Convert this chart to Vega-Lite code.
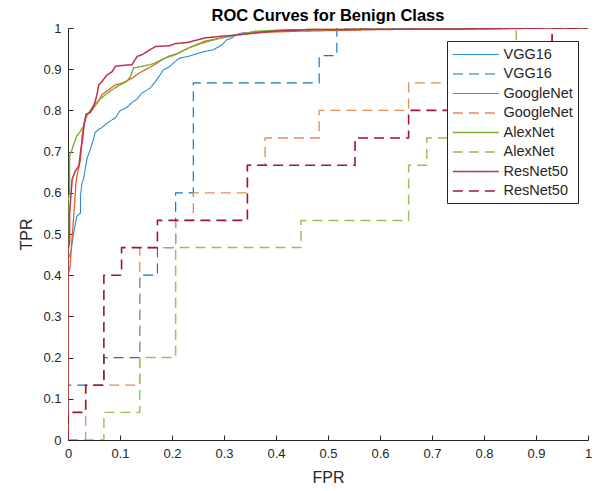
{
  "$schema": "https://vega.github.io/schema/vega-lite/v6.json",
  "autosize": {"type": "none"},
  "width": 520,
  "height": 412,
  "padding": {"left": 68, "top": 28, "right": 12, "bottom": 51},
  "background": "white",
  "config": {"font": "Liberation Sans", "view": {"stroke": null}},
  "title": {"text": "ROC Curves for Benign Class", "fontSize": 16.5, "fontWeight": "bold", "color": "#000000", "anchor": "middle", "offset": 6, "dy": 8, "font": "Liberation Sans"},
  "datasets": {
    "curves": [
      {"s": "VGG16", "i": 0, "x": 0, "y": 0},
      {"s": "VGG16", "i": 1, "x": 0, "y": 0.44},
      {"s": "VGG16", "i": 2, "x": 0.004, "y": 0.45},
      {"s": "VGG16", "i": 3, "x": 0.006, "y": 0.462},
      {"s": "VGG16", "i": 4, "x": 0.011, "y": 0.503},
      {"s": "VGG16", "i": 5, "x": 0.017, "y": 0.543},
      {"s": "VGG16", "i": 6, "x": 0.024, "y": 0.551},
      {"s": "VGG16", "i": 7, "x": 0.024, "y": 0.592},
      {"s": "VGG16", "i": 8, "x": 0.027, "y": 0.625},
      {"s": "VGG16", "i": 9, "x": 0.03, "y": 0.633},
      {"s": "VGG16", "i": 10, "x": 0.033, "y": 0.657},
      {"s": "VGG16", "i": 11, "x": 0.037, "y": 0.685},
      {"s": "VGG16", "i": 12, "x": 0.043, "y": 0.706},
      {"s": "VGG16", "i": 13, "x": 0.049, "y": 0.73},
      {"s": "VGG16", "i": 14, "x": 0.052, "y": 0.746},
      {"s": "VGG16", "i": 15, "x": 0.059, "y": 0.754},
      {"s": "VGG16", "i": 16, "x": 0.065, "y": 0.758},
      {"s": "VGG16", "i": 17, "x": 0.072, "y": 0.766},
      {"s": "VGG16", "i": 18, "x": 0.081, "y": 0.774},
      {"s": "VGG16", "i": 19, "x": 0.091, "y": 0.782},
      {"s": "VGG16", "i": 20, "x": 0.1, "y": 0.799},
      {"s": "VGG16", "i": 21, "x": 0.113, "y": 0.807},
      {"s": "VGG16", "i": 22, "x": 0.123, "y": 0.819},
      {"s": "VGG16", "i": 23, "x": 0.133, "y": 0.828},
      {"s": "VGG16", "i": 24, "x": 0.142, "y": 0.842},
      {"s": "VGG16", "i": 25, "x": 0.158, "y": 0.854},
      {"s": "VGG16", "i": 26, "x": 0.168, "y": 0.87},
      {"s": "VGG16", "i": 27, "x": 0.177, "y": 0.886},
      {"s": "VGG16", "i": 28, "x": 0.183, "y": 0.898},
      {"s": "VGG16", "i": 29, "x": 0.196, "y": 0.907},
      {"s": "VGG16", "i": 30, "x": 0.206, "y": 0.919},
      {"s": "VGG16", "i": 31, "x": 0.215, "y": 0.927},
      {"s": "VGG16", "i": 32, "x": 0.231, "y": 0.931},
      {"s": "VGG16", "i": 33, "x": 0.251, "y": 0.939},
      {"s": "VGG16", "i": 34, "x": 0.263, "y": 0.943},
      {"s": "VGG16", "i": 35, "x": 0.279, "y": 0.947},
      {"s": "VGG16", "i": 36, "x": 0.296, "y": 0.959},
      {"s": "VGG16", "i": 37, "x": 0.305, "y": 0.971},
      {"s": "VGG16", "i": 38, "x": 0.315, "y": 0.976},
      {"s": "VGG16", "i": 39, "x": 0.324, "y": 0.984},
      {"s": "VGG16", "i": 40, "x": 0.334, "y": 0.988},
      {"s": "VGG16", "i": 41, "x": 0.36, "y": 0.99},
      {"s": "VGG16", "i": 42, "x": 0.392, "y": 0.994},
      {"s": "VGG16", "i": 43, "x": 0.5, "y": 0.996},
      {"s": "VGG16", "i": 44, "x": 0.7, "y": 0.998},
      {"s": "VGG16", "i": 45, "x": 0.85, "y": 1},
      {"s": "VGG16", "i": 46, "x": 1, "y": 1},

      {"s": "VGG16\u200b", "i": 0, "x": 0, "y": 0},
      {"s": "VGG16\u200b", "i": 1, "x": 0, "y": 0.133},
      {"s": "VGG16\u200b", "i": 2, "x": 0.069, "y": 0.133},
      {"s": "VGG16\u200b", "i": 3, "x": 0.069, "y": 0.2},
      {"s": "VGG16\u200b", "i": 4, "x": 0.138, "y": 0.2},
      {"s": "VGG16\u200b", "i": 5, "x": 0.138, "y": 0.4},
      {"s": "VGG16\u200b", "i": 6, "x": 0.172, "y": 0.4},
      {"s": "VGG16\u200b", "i": 7, "x": 0.172, "y": 0.467},
      {"s": "VGG16\u200b", "i": 8, "x": 0.207, "y": 0.467},
      {"s": "VGG16\u200b", "i": 9, "x": 0.207, "y": 0.6},
      {"s": "VGG16\u200b", "i": 10, "x": 0.241, "y": 0.6},
      {"s": "VGG16\u200b", "i": 11, "x": 0.241, "y": 0.867},
      {"s": "VGG16\u200b", "i": 12, "x": 0.483, "y": 0.867},
      {"s": "VGG16\u200b", "i": 13, "x": 0.483, "y": 0.933},
      {"s": "VGG16\u200b", "i": 14, "x": 0.517, "y": 0.933},
      {"s": "VGG16\u200b", "i": 15, "x": 0.517, "y": 1},
      {"s": "VGG16\u200b", "i": 16, "x": 1, "y": 1},

      {"s": "GoogleNet", "i": 0, "x": 0, "y": 0},
      {"s": "GoogleNet", "i": 1, "x": 0, "y": 0.4},
      {"s": "GoogleNet", "i": 2, "x": 0.004, "y": 0.42},
      {"s": "GoogleNet", "i": 3, "x": 0.008, "y": 0.495},
      {"s": "GoogleNet", "i": 4, "x": 0.011, "y": 0.543},
      {"s": "GoogleNet", "i": 5, "x": 0.013, "y": 0.577},
      {"s": "GoogleNet", "i": 6, "x": 0.015, "y": 0.62},
      {"s": "GoogleNet", "i": 7, "x": 0.017, "y": 0.64},
      {"s": "GoogleNet", "i": 8, "x": 0.024, "y": 0.681},
      {"s": "GoogleNet", "i": 9, "x": 0.027, "y": 0.738},
      {"s": "GoogleNet", "i": 10, "x": 0.03, "y": 0.762},
      {"s": "GoogleNet", "i": 11, "x": 0.037, "y": 0.791},
      {"s": "GoogleNet", "i": 12, "x": 0.046, "y": 0.8},
      {"s": "GoogleNet", "i": 13, "x": 0.052, "y": 0.811},
      {"s": "GoogleNet", "i": 14, "x": 0.059, "y": 0.823},
      {"s": "GoogleNet", "i": 15, "x": 0.065, "y": 0.838},
      {"s": "GoogleNet", "i": 16, "x": 0.078, "y": 0.85},
      {"s": "GoogleNet", "i": 17, "x": 0.091, "y": 0.862},
      {"s": "GoogleNet", "i": 18, "x": 0.104, "y": 0.866},
      {"s": "GoogleNet", "i": 19, "x": 0.123, "y": 0.878},
      {"s": "GoogleNet", "i": 20, "x": 0.136, "y": 0.89},
      {"s": "GoogleNet", "i": 21, "x": 0.155, "y": 0.903},
      {"s": "GoogleNet", "i": 22, "x": 0.168, "y": 0.912},
      {"s": "GoogleNet", "i": 23, "x": 0.181, "y": 0.923},
      {"s": "GoogleNet", "i": 24, "x": 0.193, "y": 0.931},
      {"s": "GoogleNet", "i": 25, "x": 0.212, "y": 0.939},
      {"s": "GoogleNet", "i": 26, "x": 0.238, "y": 0.955},
      {"s": "GoogleNet", "i": 27, "x": 0.263, "y": 0.968},
      {"s": "GoogleNet", "i": 28, "x": 0.296, "y": 0.976},
      {"s": "GoogleNet", "i": 29, "x": 0.327, "y": 0.984},
      {"s": "GoogleNet", "i": 30, "x": 0.36, "y": 0.988},
      {"s": "GoogleNet", "i": 31, "x": 0.392, "y": 0.99},
      {"s": "GoogleNet", "i": 32, "x": 0.437, "y": 0.992},
      {"s": "GoogleNet", "i": 33, "x": 0.6, "y": 0.996},
      {"s": "GoogleNet", "i": 34, "x": 0.75, "y": 0.998},
      {"s": "GoogleNet", "i": 35, "x": 0.9, "y": 1},
      {"s": "GoogleNet", "i": 36, "x": 1, "y": 1},

      {"s": "GoogleNet\u200b", "i": 0, "x": 0, "y": 0},
      {"s": "GoogleNet\u200b", "i": 1, "x": 0.034, "y": 0},
      {"s": "GoogleNet\u200b", "i": 2, "x": 0.034, "y": 0.133},
      {"s": "GoogleNet\u200b", "i": 3, "x": 0.138, "y": 0.133},
      {"s": "GoogleNet\u200b", "i": 4, "x": 0.138, "y": 0.467},
      {"s": "GoogleNet\u200b", "i": 5, "x": 0.207, "y": 0.467},
      {"s": "GoogleNet\u200b", "i": 6, "x": 0.207, "y": 0.533},
      {"s": "GoogleNet\u200b", "i": 7, "x": 0.241, "y": 0.533},
      {"s": "GoogleNet\u200b", "i": 8, "x": 0.241, "y": 0.6},
      {"s": "GoogleNet\u200b", "i": 9, "x": 0.345, "y": 0.6},
      {"s": "GoogleNet\u200b", "i": 10, "x": 0.345, "y": 0.667},
      {"s": "GoogleNet\u200b", "i": 11, "x": 0.379, "y": 0.667},
      {"s": "GoogleNet\u200b", "i": 12, "x": 0.379, "y": 0.733},
      {"s": "GoogleNet\u200b", "i": 13, "x": 0.483, "y": 0.733},
      {"s": "GoogleNet\u200b", "i": 14, "x": 0.483, "y": 0.8},
      {"s": "GoogleNet\u200b", "i": 15, "x": 0.655, "y": 0.8},
      {"s": "GoogleNet\u200b", "i": 16, "x": 0.655, "y": 0.867},
      {"s": "GoogleNet\u200b", "i": 17, "x": 0.931, "y": 0.867},
      {"s": "GoogleNet\u200b", "i": 18, "x": 0.931, "y": 1},
      {"s": "GoogleNet\u200b", "i": 19, "x": 1, "y": 1},

      {"s": "AlexNet", "i": 0, "x": 0, "y": 0},
      {"s": "AlexNet", "i": 1, "x": 0, "y": 0.58},
      {"s": "AlexNet", "i": 2, "x": 0.003, "y": 0.6},
      {"s": "AlexNet", "i": 3, "x": 0.003, "y": 0.689},
      {"s": "AlexNet", "i": 4, "x": 0.008, "y": 0.706},
      {"s": "AlexNet", "i": 5, "x": 0.011, "y": 0.718},
      {"s": "AlexNet", "i": 6, "x": 0.017, "y": 0.738},
      {"s": "AlexNet", "i": 7, "x": 0.024, "y": 0.75},
      {"s": "AlexNet", "i": 8, "x": 0.03, "y": 0.762},
      {"s": "AlexNet", "i": 9, "x": 0.033, "y": 0.779},
      {"s": "AlexNet", "i": 10, "x": 0.04, "y": 0.795},
      {"s": "AlexNet", "i": 11, "x": 0.049, "y": 0.811},
      {"s": "AlexNet", "i": 12, "x": 0.059, "y": 0.825},
      {"s": "AlexNet", "i": 13, "x": 0.072, "y": 0.838},
      {"s": "AlexNet", "i": 14, "x": 0.085, "y": 0.85},
      {"s": "AlexNet", "i": 15, "x": 0.1, "y": 0.862},
      {"s": "AlexNet", "i": 16, "x": 0.113, "y": 0.87},
      {"s": "AlexNet", "i": 17, "x": 0.12, "y": 0.882},
      {"s": "AlexNet", "i": 18, "x": 0.126, "y": 0.903},
      {"s": "AlexNet", "i": 19, "x": 0.142, "y": 0.907},
      {"s": "AlexNet", "i": 20, "x": 0.158, "y": 0.911},
      {"s": "AlexNet", "i": 21, "x": 0.167, "y": 0.915},
      {"s": "AlexNet", "i": 22, "x": 0.187, "y": 0.927},
      {"s": "AlexNet", "i": 23, "x": 0.206, "y": 0.935},
      {"s": "AlexNet", "i": 24, "x": 0.231, "y": 0.951},
      {"s": "AlexNet", "i": 25, "x": 0.257, "y": 0.963},
      {"s": "AlexNet", "i": 26, "x": 0.296, "y": 0.976},
      {"s": "AlexNet", "i": 27, "x": 0.327, "y": 0.984},
      {"s": "AlexNet", "i": 28, "x": 0.36, "y": 0.992},
      {"s": "AlexNet", "i": 29, "x": 0.423, "y": 0.996},
      {"s": "AlexNet", "i": 30, "x": 0.6, "y": 0.997},
      {"s": "AlexNet", "i": 31, "x": 0.8, "y": 0.998},
      {"s": "AlexNet", "i": 32, "x": 0.9, "y": 1},
      {"s": "AlexNet", "i": 33, "x": 1, "y": 1},

      {"s": "AlexNet\u200b", "i": 0, "x": 0, "y": 0},
      {"s": "AlexNet\u200b", "i": 1, "x": 0.069, "y": 0},
      {"s": "AlexNet\u200b", "i": 2, "x": 0.069, "y": 0.067},
      {"s": "AlexNet\u200b", "i": 3, "x": 0.138, "y": 0.067},
      {"s": "AlexNet\u200b", "i": 4, "x": 0.138, "y": 0.2},
      {"s": "AlexNet\u200b", "i": 5, "x": 0.207, "y": 0.2},
      {"s": "AlexNet\u200b", "i": 6, "x": 0.207, "y": 0.467},
      {"s": "AlexNet\u200b", "i": 7, "x": 0.448, "y": 0.467},
      {"s": "AlexNet\u200b", "i": 8, "x": 0.448, "y": 0.533},
      {"s": "AlexNet\u200b", "i": 9, "x": 0.655, "y": 0.533},
      {"s": "AlexNet\u200b", "i": 10, "x": 0.655, "y": 0.667},
      {"s": "AlexNet\u200b", "i": 11, "x": 0.69, "y": 0.667},
      {"s": "AlexNet\u200b", "i": 12, "x": 0.69, "y": 0.733},
      {"s": "AlexNet\u200b", "i": 13, "x": 0.862, "y": 0.733},
      {"s": "AlexNet\u200b", "i": 14, "x": 0.862, "y": 1},
      {"s": "AlexNet\u200b", "i": 15, "x": 1, "y": 1},

      {"s": "ResNet50", "i": 0, "x": 0, "y": 0},
      {"s": "ResNet50", "i": 1, "x": 0, "y": 0.46},
      {"s": "ResNet50", "i": 2, "x": 0.003, "y": 0.48},
      {"s": "ResNet50", "i": 3, "x": 0.003, "y": 0.55},
      {"s": "ResNet50", "i": 4, "x": 0.006, "y": 0.6},
      {"s": "ResNet50", "i": 5, "x": 0.008, "y": 0.633},
      {"s": "ResNet50", "i": 6, "x": 0.014, "y": 0.653},
      {"s": "ResNet50", "i": 7, "x": 0.021, "y": 0.665},
      {"s": "ResNet50", "i": 8, "x": 0.024, "y": 0.698},
      {"s": "ResNet50", "i": 9, "x": 0.028, "y": 0.73},
      {"s": "ResNet50", "i": 10, "x": 0.03, "y": 0.754},
      {"s": "ResNet50", "i": 11, "x": 0.032, "y": 0.774},
      {"s": "ResNet50", "i": 12, "x": 0.035, "y": 0.791},
      {"s": "ResNet50", "i": 13, "x": 0.043, "y": 0.795},
      {"s": "ResNet50", "i": 14, "x": 0.049, "y": 0.811},
      {"s": "ResNet50", "i": 15, "x": 0.052, "y": 0.82},
      {"s": "ResNet50", "i": 16, "x": 0.056, "y": 0.84},
      {"s": "ResNet50", "i": 17, "x": 0.059, "y": 0.862},
      {"s": "ResNet50", "i": 18, "x": 0.064, "y": 0.868},
      {"s": "ResNet50", "i": 19, "x": 0.075, "y": 0.886},
      {"s": "ResNet50", "i": 20, "x": 0.085, "y": 0.894},
      {"s": "ResNet50", "i": 21, "x": 0.091, "y": 0.907},
      {"s": "ResNet50", "i": 22, "x": 0.104, "y": 0.909},
      {"s": "ResNet50", "i": 23, "x": 0.123, "y": 0.911},
      {"s": "ResNet50", "i": 24, "x": 0.133, "y": 0.931},
      {"s": "ResNet50", "i": 25, "x": 0.142, "y": 0.935},
      {"s": "ResNet50", "i": 26, "x": 0.168, "y": 0.955},
      {"s": "ResNet50", "i": 27, "x": 0.196, "y": 0.957},
      {"s": "ResNet50", "i": 28, "x": 0.206, "y": 0.962},
      {"s": "ResNet50", "i": 29, "x": 0.231, "y": 0.965},
      {"s": "ResNet50", "i": 30, "x": 0.263, "y": 0.976},
      {"s": "ResNet50", "i": 31, "x": 0.296, "y": 0.98},
      {"s": "ResNet50", "i": 32, "x": 0.334, "y": 0.984},
      {"s": "ResNet50", "i": 33, "x": 0.36, "y": 0.988},
      {"s": "ResNet50", "i": 34, "x": 0.392, "y": 0.992},
      {"s": "ResNet50", "i": 35, "x": 0.423, "y": 0.994},
      {"s": "ResNet50", "i": 36, "x": 0.456, "y": 0.996},
      {"s": "ResNet50", "i": 37, "x": 0.6, "y": 0.997},
      {"s": "ResNet50", "i": 38, "x": 0.8, "y": 0.998},
      {"s": "ResNet50", "i": 39, "x": 0.93, "y": 1},
      {"s": "ResNet50", "i": 40, "x": 1, "y": 1},

      {"s": "ResNet50\u200b", "i": 0, "x": 0, "y": 0},
      {"s": "ResNet50\u200b", "i": 1, "x": 0, "y": 0.067},
      {"s": "ResNet50\u200b", "i": 2, "x": 0.034, "y": 0.067},
      {"s": "ResNet50\u200b", "i": 3, "x": 0.034, "y": 0.133},
      {"s": "ResNet50\u200b", "i": 4, "x": 0.069, "y": 0.133},
      {"s": "ResNet50\u200b", "i": 5, "x": 0.069, "y": 0.4},
      {"s": "ResNet50\u200b", "i": 6, "x": 0.103, "y": 0.4},
      {"s": "ResNet50\u200b", "i": 7, "x": 0.103, "y": 0.467},
      {"s": "ResNet50\u200b", "i": 8, "x": 0.172, "y": 0.467},
      {"s": "ResNet50\u200b", "i": 9, "x": 0.172, "y": 0.533},
      {"s": "ResNet50\u200b", "i": 10, "x": 0.345, "y": 0.533},
      {"s": "ResNet50\u200b", "i": 11, "x": 0.345, "y": 0.667},
      {"s": "ResNet50\u200b", "i": 12, "x": 0.552, "y": 0.667},
      {"s": "ResNet50\u200b", "i": 13, "x": 0.552, "y": 0.733},
      {"s": "ResNet50\u200b", "i": 14, "x": 0.655, "y": 0.733},
      {"s": "ResNet50\u200b", "i": 15, "x": 0.655, "y": 0.8},
      {"s": "ResNet50\u200b", "i": 16, "x": 0.931, "y": 0.8},
      {"s": "ResNet50\u200b", "i": 17, "x": 0.931, "y": 1},
      {"s": "ResNet50\u200b", "i": 18, "x": 1, "y": 1}
    ]
  },
  "data": {"name": "curves"},
  "mark": {"type": "line", "clip": true},
  "encoding": {
    "x": {
      "field": "x", "type": "quantitative",
      "scale": {"domain": [0, 1], "nice": false, "zero": false},
      "axis": {
        "title": "FPR", "values": [0, 0.1, 0.2, 0.3, 0.4, 0.5, 0.6, 0.7, 0.8, 0.9, 1],
        "format": ".1~f", "grid": false, "tickSize": -5, "labelPadding": 12,
        "domainColor": "#262626", "tickColor": "#262626", "labelColor": "#262626",
        "labelFontSize": 13, "labelFont": "Liberation Sans", "titleFont": "Liberation Sans",
        "titleFontSize": 16, "titleFontWeight": "normal", "titleColor": "#262626", "titlePadding": 9,
        "labelFlush": false
      }
    },
    "y": {
      "field": "y", "type": "quantitative",
      "scale": {"domain": [0, 1], "nice": false, "zero": false},
      "axis": {
        "title": "TPR", "values": [0, 0.1, 0.2, 0.3, 0.4, 0.5, 0.6, 0.7, 0.8, 0.9, 1],
        "format": ".1~f", "grid": false, "tickSize": -5, "labelPadding": 12,
        "domainColor": "#262626", "tickColor": "#262626", "labelColor": "#262626",
        "labelFontSize": 13, "labelFont": "Liberation Sans", "titleFont": "Liberation Sans",
        "titleFontSize": 16, "titleFontWeight": "normal", "titleColor": "#262626", "titlePadding": 8,
        "labelFlush": false
      }
    },
    "order": {"field": "i", "type": "quantitative"},
    "color": {
      "field": "s", "type": "nominal",
      "scale": {
        "domain": ["VGG16", "VGG16\u200b", "GoogleNet", "GoogleNet\u200b", "AlexNet", "AlexNet\u200b", "ResNet50", "ResNet50\u200b"],
        "range": ["#2B8CD3", "#1177C2", "#DD5E24", "#E78A5C", "#7AB034", "#92C452", "#BB3550", "#A2142F"]
      },
      "legend": {
        "orient": "none", "legendX": 379, "legendY": 13, "title": null,
        "fillColor": "white", "strokeColor": "#262626", "padding": 5,
        "symbolType": "M-1,0H5", "symbolSize": 235, "symbolStrokeWidth": 1.5, "symbolFillColor": "transparent",
        "labelFontSize": 14.5, "labelFont": "Liberation Sans", "labelColor": "#262626",
        "rowPadding": 4.5, "labelOffset": 34.5
      }
    },
    "strokeDash": {
      "field": "s", "type": "nominal",
      "scale": {
        "domain": ["VGG16", "VGG16\u200b", "GoogleNet", "GoogleNet\u200b", "AlexNet", "AlexNet\u200b", "ResNet50", "ResNet50\u200b"],
        "range": [[1, 0], [10, 6], [1, 0], [10, 6], [1, 0], [10, 6], [1, 0], [10, 6]]
      },
      "legend": {
        "orient": "none", "legendX": 379, "legendY": 13, "title": null,
        "fillColor": "white", "strokeColor": "#262626", "padding": 5,
        "symbolType": "M-1,0H5", "symbolSize": 235, "symbolStrokeWidth": 1.5, "symbolFillColor": "transparent",
        "labelFontSize": 14.5, "labelFont": "Liberation Sans", "labelColor": "#262626",
        "rowPadding": 4.5, "labelOffset": 34.5
      }
    },
    "strokeWidth": {
      "field": "s", "type": "nominal",
      "scale": {
        "domain": ["VGG16", "VGG16\u200b", "GoogleNet", "GoogleNet\u200b", "AlexNet", "AlexNet\u200b", "ResNet50", "ResNet50\u200b"],
        "range": [1.1, 1.6, 1.1, 1.6, 1.1, 1.6, 1.1, 1.8]
      },
      "legend": null
    }
  }
}
